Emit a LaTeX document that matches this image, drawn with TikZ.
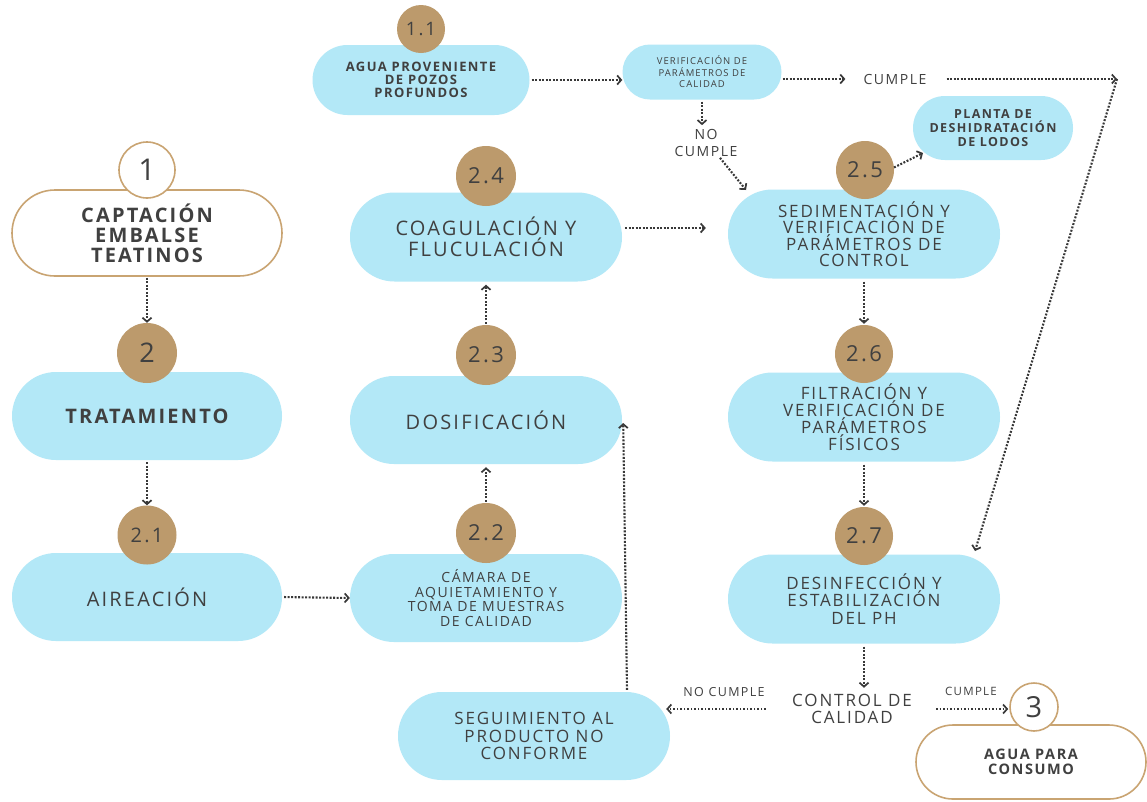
\documentclass[tikz,border=0pt]{standalone}
\usepackage{fontspec}
\usetikzlibrary{arrows.meta,calc}
\newfontfamily\tf{Open Sans}[LetterSpace=11]
\definecolor{pblue}{HTML}{B3E8F7}
\definecolor{tanfill}{HTML}{BC9A6C}
\definecolor{tanline}{HTML}{C9A472}
\definecolor{txt}{HTML}{404040}
\definecolor{arrowc}{HTML}{383838}
\tikzset{
 fs/.style 2 args={font=\tf\fontsize{#1}{#2}\selectfont},
 fsb/.style 2 args={font=\tf\fontsize{#1}{#2}\selectfont\bfseries},
 pill/.style={fill=pblue, text=txt, align=center, inner sep=0pt},
 opill/.style={fill=white, draw=tanline, line width=1.6pt, text=txt, align=center, inner sep=0pt},
 numc/.style={circle, fill=tanfill, text=txt, inner sep=0pt, minimum size=#1},
 onumc/.style={circle, fill=white, draw=tanline, line width=1.6pt, text=txt, inner sep=0pt, minimum size=#1},
 lbl/.style={text=txt, align=center, inner sep=0pt},
 flow/.style={draw=arrowc, line width=2.1pt, dash pattern=on 1.9pt off 1.6pt,
   -{Straight Barb[length=4pt,width=9pt,line width=1.7pt]}},
}
\begin{document}
\begin{tikzpicture}[x=1pt,y=-1pt]
\useasboundingbox[fill=white] (0,0) rectangle (1147,801);

% --- top row
\node[pill, fsb={13}{13}, minimum width=217pt, minimum height=70pt, rounded corners=35pt] (p11) at (421,80)
  {AGUA PROVENIENTE\\DE POZOS\\PROFUNDOS};
\node[numc=48pt, fs={18.5}{18.5}] (c11) at (421,29) {1.1};
\node[pill, fs={9.5}{11.5}, minimum width=159pt, minimum height=55pt, rounded corners=27.5pt] (ver) at (702,72)
  {VERIFICACIÓN DE\\PARÁMETROS DE\\CALIDAD};
\node[lbl, fs={14}{14}] (cu1) at (895,79) {CUMPLE};
\node[lbl, fs={14}{17}] (nc1) at (706,143) {NO\\CUMPLE};
\node[pill, fsb={12.5}{14}, minimum width=160pt, minimum height=64pt, rounded corners=32pt] (pl) at (993,128)
  {PLANTA DE\\DESHIDRATACIÓN\\DE LODOS};

% --- column 1
\node[opill, fsb={20}{20}, minimum width=270pt, minimum height=86pt, rounded corners=43pt] (p1) at (147,233)
  {CAPTACIÓN\\EMBALSE\\TEATINOS};
\node[onumc=56pt, fs={30}{30}] (c1) at (147,170) {1};
\node[pill, fsb={20}{20}, minimum width=270pt, minimum height=88pt, rounded corners=44pt] (p2) at (147,416)
  {TRATAMIENTO};
\node[numc=60pt, fs={27}{27}] (c2) at (147,353) {2};
\node[pill, fs={20}{20}, minimum width=270pt, minimum height=88pt, rounded corners=44pt] (p21) at (147,597)
  {AIREACIÓN};
\node[numc=59pt, fs={20}{20}] (c21) at (147,535) {2.1};

% --- column 2
\node[pill, fs={20}{21}, minimum width=272pt, minimum height=89pt, rounded corners=44.5pt] (p24) at (486,237)
  {COAGULACIÓN Y\\FLUCULACIÓN};
\node[numc=60pt, fs={22}{22}] (c24) at (486,176) {2.4};
\node[pill, fs={20}{20}, minimum width=272pt, minimum height=88pt, rounded corners=44pt] (p23) at (486,420)
  {DOSIFICACIÓN};
\node[numc=60pt, fs={22}{22}] (c23) at (486,355) {2.3};
\node[pill, fs={14}{14.5}, minimum width=272pt, minimum height=88pt, rounded corners=44pt] (p22) at (486,598)
  {CÁMARA DE\\AQUIETAMIENTO Y\\TOMA DE MUESTRAS\\DE CALIDAD};
\node[numc=60pt, fs={22}{22}] (c22) at (486,533) {2.2};
\node[pill, fs={17}{17.5}, minimum width=272pt, minimum height=88pt, rounded corners=44pt] (seg) at (534,736)
  {SEGUIMIENTO AL\\PRODUCTO NO\\CONFORME};

% --- column 3
\node[pill, fs={17}{16.5}, minimum width=272pt, minimum height=89pt, rounded corners=44.5pt] (p25) at (864,234)
  {SEDIMENTACIÓN Y\\VERIFICACIÓN DE\\PARÁMETROS DE\\CONTROL};
\node[numc=58pt, fs={22}{22}] (c25) at (865,170) {2.5};
\node[pill, fs={17}{17}, minimum width=272pt, minimum height=89pt, rounded corners=44.5pt] (p26) at (864,417)
  {FILTRACIÓN Y\\VERIFICACIÓN DE\\PARÁMETROS\\FÍSICOS};
\node[numc=58pt, fs={22}{22}] (c26) at (864,354) {2.6};
\node[pill, fs={17}{17.5}, minimum width=272pt, minimum height=89pt, rounded corners=44.5pt] (p27) at (864,599)
  {DESINFECCIÓN Y\\ESTABILIZACIÓN\\DEL PH};
\node[numc=58pt, fs={22}{22}] (c27) at (864,536) {2.7};

% --- bottom
\node[lbl, fs={17}{17.5}] (ctrl) at (852,709) {CONTROL DE\\CALIDAD};
\node[lbl, fs={12.5}{12.5}] (nc2) at (724,692) {NO CUMPLE};
\node[lbl, fs={11.5}{11.5}] (cu2) at (971,691) {CUMPLE};
\node[opill, fsb={14.5}{14.5}, minimum width=230pt, minimum height=74pt, rounded corners=37pt] (p3) at (1031,762)
  {AGUA PARA\\CONSUMO};
\node[onumc=48pt, fs={29}{29}] (c3) at (1034,707) {3};

% --- free-end coordinates
\coordinate (k) at (1117,79);
\coordinate (t27) at (975,551);
\coordinate (t25) at (746,190);
\coordinate (tpl) at (923,153);

% --- connectors
\draw[flow, shorten <=2pt] (p11.east) -- (p11.east -| ver.west);
\draw[flow, shorten <=1pt, shorten >=18pt] (ver.east |- cu1.west) -- (cu1.west);
\draw[flow, shorten <=20pt] (cu1.east) -- (k);
\draw[flow] (k) -- (t27);
\draw[flow, shorten <=2pt, shorten >=4pt] (ver.south) -- (ver.south |- nc1.north);
\draw[flow] ($(nc1.south)+(14,1)$) -- (t25);
\draw[flow] (c25.5) -- (tpl);
\draw[flow] ($(p24.east)+(3,-9)$) -- ($(p24.east -| p25.west)+(-22,-9)$);
\draw[flow, shorten <=1pt, shorten >=3pt] (c23.north) -- (p24.south);
\draw[flow, shorten <=1pt, shorten >=3pt] (c22.north) -- (p23.south);
\draw[flow, shorten <=1pt] (p1.south) -- (c2.north);
\draw[flow, shorten <=2pt] (p2.south) -- (c21.north);
\draw[flow, shorten <=2pt] (p21.east) -- (p22.west);
\draw[flow, shorten <=3pt, shorten >=1pt] (p25.south) -- (c26.north);
\draw[flow, shorten <=3pt, shorten >=1pt] (p26.south) -- (c27.north);
\draw[flow, shorten <=3pt, shorten >=6pt] (p27.south) -- (p27.south |- ctrl.north);
\draw[flow, shorten <=26pt, shorten >=-4pt] (ctrl.west) -- (ctrl.west -| seg.east);
\draw[flow, shorten <=24pt, shorten >=1pt] (ctrl.east) -- (ctrl.east -| c3.west);
\draw[flow] ($(seg.north)+(93,-2)$) -- ($(p23.east)+(1,3)$);
\end{tikzpicture}
\end{document}
